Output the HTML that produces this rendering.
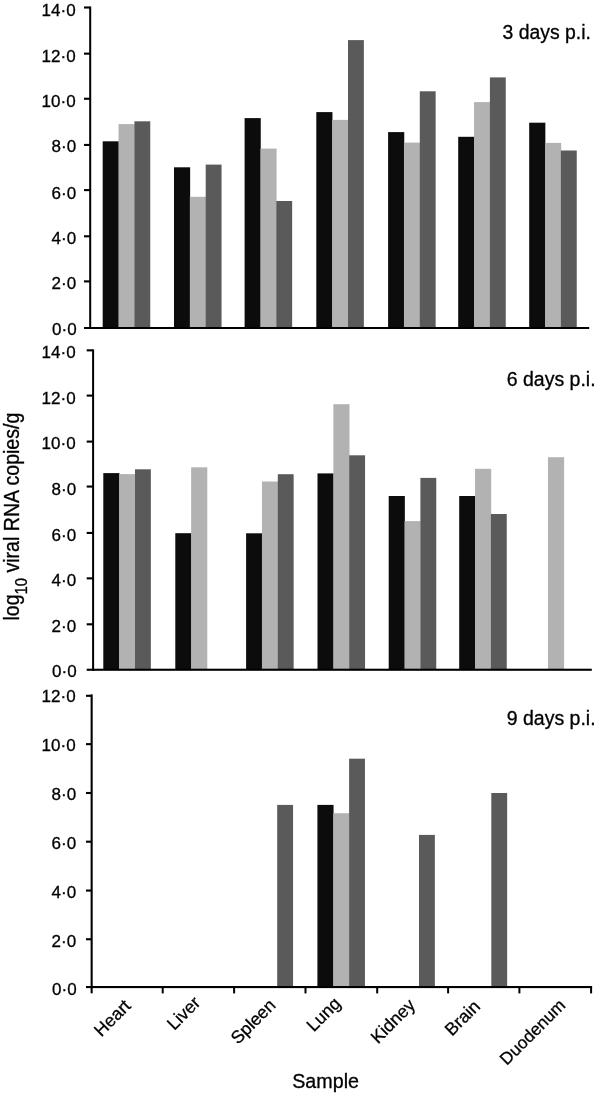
<!DOCTYPE html>
<html><head><meta charset="utf-8"><title>Viral RNA copies</title>
<style>
html,body{margin:0;padding:0;background:#fff;}
svg{display:block;}
text{font-family:"Liberation Sans",sans-serif;fill:#000;stroke:#000;stroke-width:0.3px;}
</style></head>
<body>
<svg width="594" height="1093" viewBox="0 0 594 1093" shape-rendering="auto">
<rect x="0" y="0" width="594" height="1093" fill="#fff"/>
<rect x="102.70" y="141.30" width="16.15" height="186.20" fill="#0c0c0c"/>
<rect x="118.55" y="124.10" width="16.15" height="203.40" fill="#b2b2b2"/>
<rect x="134.40" y="121.30" width="15.85" height="206.20" fill="#5a5a5a"/>
<rect x="174.00" y="167.30" width="16.15" height="160.20" fill="#0c0c0c"/>
<rect x="189.85" y="196.80" width="16.15" height="130.70" fill="#b2b2b2"/>
<rect x="205.70" y="164.60" width="15.85" height="162.90" fill="#5a5a5a"/>
<rect x="244.60" y="118.10" width="16.15" height="209.40" fill="#0c0c0c"/>
<rect x="260.45" y="148.60" width="16.15" height="178.90" fill="#b2b2b2"/>
<rect x="276.30" y="201.00" width="15.85" height="126.50" fill="#5a5a5a"/>
<rect x="316.30" y="112.10" width="16.15" height="215.40" fill="#0c0c0c"/>
<rect x="332.15" y="119.90" width="16.15" height="207.60" fill="#b2b2b2"/>
<rect x="348.00" y="40.10" width="15.85" height="287.40" fill="#5a5a5a"/>
<rect x="388.10" y="132.10" width="16.15" height="195.40" fill="#0c0c0c"/>
<rect x="403.95" y="142.60" width="16.15" height="184.90" fill="#b2b2b2"/>
<rect x="419.80" y="91.30" width="15.85" height="236.20" fill="#5a5a5a"/>
<rect x="458.20" y="136.80" width="16.15" height="190.70" fill="#0c0c0c"/>
<rect x="474.05" y="102.10" width="16.15" height="225.40" fill="#b2b2b2"/>
<rect x="489.90" y="77.40" width="15.85" height="250.10" fill="#5a5a5a"/>
<rect x="529.20" y="122.70" width="16.15" height="204.80" fill="#0c0c0c"/>
<rect x="545.05" y="142.90" width="16.15" height="184.60" fill="#b2b2b2"/>
<rect x="560.90" y="150.50" width="15.85" height="177.00" fill="#5a5a5a"/>
<rect x="89.20" y="6.50" width="2.00" height="322.50" fill="#000"/>
<rect x="84.00" y="327.00" width="505.20" height="2.00" fill="#000"/>
<rect x="84.00" y="6.45" width="6.00" height="2.10" fill="#000"/>
<rect x="84.00" y="52.60" width="6.00" height="2.10" fill="#000"/>
<rect x="84.00" y="97.70" width="6.00" height="2.10" fill="#000"/>
<rect x="84.00" y="143.90" width="6.00" height="2.10" fill="#000"/>
<rect x="84.00" y="189.05" width="6.00" height="2.10" fill="#000"/>
<rect x="84.00" y="235.25" width="6.00" height="2.10" fill="#000"/>
<rect x="84.00" y="280.35" width="6.00" height="2.10" fill="#000"/>
<rect x="103.30" y="473.10" width="16.15" height="196.10" fill="#0c0c0c"/>
<rect x="119.15" y="474.10" width="16.15" height="195.10" fill="#b2b2b2"/>
<rect x="135.00" y="469.30" width="15.85" height="199.90" fill="#5a5a5a"/>
<rect x="175.30" y="533.20" width="16.15" height="136.00" fill="#0c0c0c"/>
<rect x="191.15" y="467.30" width="16.15" height="201.90" fill="#b2b2b2"/>
<rect x="246.10" y="533.30" width="16.15" height="135.90" fill="#0c0c0c"/>
<rect x="261.95" y="481.50" width="16.15" height="187.70" fill="#b2b2b2"/>
<rect x="277.80" y="474.20" width="15.85" height="195.00" fill="#5a5a5a"/>
<rect x="317.50" y="473.40" width="16.15" height="195.80" fill="#0c0c0c"/>
<rect x="333.35" y="404.20" width="16.15" height="265.00" fill="#b2b2b2"/>
<rect x="349.20" y="455.30" width="15.85" height="213.90" fill="#5a5a5a"/>
<rect x="388.70" y="496.00" width="16.15" height="173.20" fill="#0c0c0c"/>
<rect x="404.55" y="521.10" width="16.15" height="148.10" fill="#b2b2b2"/>
<rect x="420.40" y="477.90" width="15.85" height="191.30" fill="#5a5a5a"/>
<rect x="459.20" y="496.00" width="16.15" height="173.20" fill="#0c0c0c"/>
<rect x="475.05" y="468.80" width="16.15" height="200.40" fill="#b2b2b2"/>
<rect x="490.90" y="514.00" width="15.85" height="155.20" fill="#5a5a5a"/>
<rect x="547.95" y="457.20" width="16.15" height="212.00" fill="#b2b2b2"/>
<rect x="92.10" y="349.40" width="2.00" height="321.40" fill="#000"/>
<rect x="86.70" y="668.70" width="505.10" height="2.10" fill="#000"/>
<rect x="86.70" y="349.30" width="6.30" height="2.10" fill="#000"/>
<rect x="86.70" y="394.55" width="6.30" height="2.10" fill="#000"/>
<rect x="86.70" y="440.55" width="6.30" height="2.10" fill="#000"/>
<rect x="86.70" y="485.50" width="6.30" height="2.10" fill="#000"/>
<rect x="86.70" y="531.90" width="6.30" height="2.10" fill="#000"/>
<rect x="86.70" y="577.30" width="6.30" height="2.10" fill="#000"/>
<rect x="86.70" y="623.25" width="6.30" height="2.10" fill="#000"/>
<rect x="277.20" y="804.90" width="15.85" height="181.60" fill="#5a5a5a"/>
<rect x="317.40" y="804.90" width="16.15" height="181.60" fill="#0c0c0c"/>
<rect x="333.25" y="813.20" width="16.15" height="173.30" fill="#b2b2b2"/>
<rect x="349.10" y="758.70" width="15.85" height="227.80" fill="#5a5a5a"/>
<rect x="419.00" y="834.90" width="15.85" height="151.60" fill="#5a5a5a"/>
<rect x="491.30" y="793.00" width="15.85" height="193.50" fill="#5a5a5a"/>
<rect x="90.60" y="694.40" width="2.10" height="298.90" fill="#000"/>
<rect x="86.00" y="986.00" width="506.10" height="2.10" fill="#000"/>
<rect x="86.00" y="694.75" width="6.00" height="2.10" fill="#000"/>
<rect x="86.00" y="743.10" width="6.00" height="2.10" fill="#000"/>
<rect x="86.00" y="791.95" width="6.00" height="2.10" fill="#000"/>
<rect x="86.00" y="840.65" width="6.00" height="2.10" fill="#000"/>
<rect x="86.00" y="889.50" width="6.00" height="2.10" fill="#000"/>
<rect x="86.00" y="938.20" width="6.00" height="2.10" fill="#000"/>
<rect x="161.70" y="987.00" width="2.00" height="6.40" fill="#000"/>
<rect x="233.10" y="987.00" width="2.00" height="6.40" fill="#000"/>
<rect x="304.50" y="987.00" width="2.00" height="6.40" fill="#000"/>
<rect x="376.20" y="987.00" width="2.00" height="6.40" fill="#000"/>
<rect x="447.10" y="987.00" width="2.00" height="6.40" fill="#000"/>
<rect x="518.40" y="987.00" width="2.00" height="6.40" fill="#000"/>
<rect x="590.10" y="987.00" width="2.00" height="6.40" fill="#000"/>
<text x="75.60" y="16.30" font-size="17" text-anchor="end" >14·0</text>
<text x="75.60" y="61.60" font-size="17" text-anchor="end" >12·0</text>
<text x="75.60" y="107.00" font-size="17" text-anchor="end" >10·0</text>
<text x="76.20" y="152.10" font-size="17" text-anchor="end" >8·0</text>
<text x="76.20" y="198.60" font-size="17" text-anchor="end" >6·0</text>
<text x="76.20" y="243.60" font-size="17" text-anchor="end" >4·0</text>
<text x="76.20" y="289.10" font-size="17" text-anchor="end" >2·0</text>
<text x="76.60" y="334.90" font-size="17" text-anchor="end" >0·0</text>
<text x="75.60" y="358.40" font-size="17" text-anchor="end" >14·0</text>
<text x="75.60" y="403.80" font-size="17" text-anchor="end" >12·0</text>
<text x="75.60" y="449.00" font-size="17" text-anchor="end" >10·0</text>
<text x="76.20" y="494.90" font-size="17" text-anchor="end" >8·0</text>
<text x="76.20" y="540.50" font-size="17" text-anchor="end" >6·0</text>
<text x="76.20" y="585.90" font-size="17" text-anchor="end" >4·0</text>
<text x="76.20" y="631.50" font-size="17" text-anchor="end" >2·0</text>
<text x="76.60" y="677.40" font-size="17" text-anchor="end" >0·0</text>
<text x="75.60" y="702.30" font-size="17" text-anchor="end" >12·0</text>
<text x="75.60" y="750.80" font-size="17" text-anchor="end" >10·0</text>
<text x="76.20" y="799.80" font-size="17" text-anchor="end" >8·0</text>
<text x="76.20" y="849.10" font-size="17" text-anchor="end" >6·0</text>
<text x="76.20" y="898.10" font-size="17" text-anchor="end" >4·0</text>
<text x="76.20" y="946.70" font-size="17" text-anchor="end" >2·0</text>
<text x="76.60" y="995.30" font-size="17" text-anchor="end" >0·0</text>
<text x="590.90" y="39.40" font-size="19.4" text-anchor="end" >3 days p.i.</text>
<text x="595.60" y="386.30" font-size="19.5" text-anchor="end" >6 days p.i.</text>
<text x="595.60" y="724.50" font-size="19.5" text-anchor="end" >9 days p.i.</text>
<text x="325.60" y="1087.90" font-size="19.7" text-anchor="middle" >Sample</text>
<text transform="translate(18.7,620.6) rotate(-90) scale(1,1.08)" font-size="19.6">log<tspan font-size="14.8" dy="7.5">10</tspan><tspan dy="-7.5"> viral RNA copies/g</tspan></text>
<text transform="translate(131.80,1006.90) rotate(-45)" font-size="17.7" text-anchor="end">Heart</text>
<text transform="translate(201.30,1003.80) rotate(-45)" font-size="17.7" text-anchor="end">Liver</text>
<text transform="translate(276.70,1006.30) rotate(-45)" font-size="17.6" text-anchor="end">Spleen</text>
<text transform="translate(341.60,1004.60) rotate(-45)" font-size="17.7" text-anchor="end">Lung</text>
<text transform="translate(416.20,1006.20) rotate(-45)" font-size="17.7" text-anchor="end">Kidney</text>
<text transform="translate(481.10,1007.50) rotate(-45)" font-size="17.7" text-anchor="end">Brain</text>
<text transform="translate(566.50,1006.40) rotate(-45)" font-size="17.25" text-anchor="end">Duodenum</text>
</svg>
</body></html>
